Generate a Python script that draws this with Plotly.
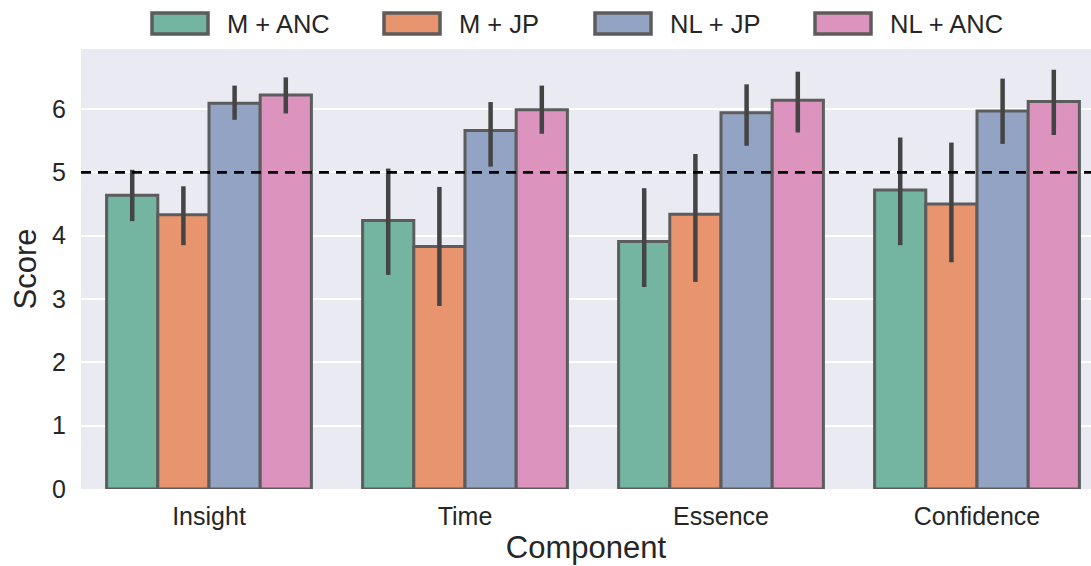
import plotly.graph_objects as go

# Categories and condition names
components = ["Insight", "Time", "Essence", "Confidence"]
conditions = ["M + ANC", "M + JP", "NL + JP", "NL + ANC"]

# Mean scores per condition (one value per component)
mean_m_anc = [4.64, 4.24, 3.91, 4.72]
mean_m_jp = [4.33, 3.83, 4.34, 4.50]
mean_nl_jp = [6.09, 5.66, 5.94, 5.97]
mean_nl_anc = [6.22, 5.99, 6.14, 6.12]

# Upper / lower confidence bounds
upper_m_anc = [5.04, 5.06, 4.75, 5.55]
upper_m_jp = [4.78, 4.77, 5.29, 5.47]
upper_nl_jp = [6.37, 6.11, 6.39, 6.48]
upper_nl_anc = [6.50, 6.37, 6.59, 6.62]

lower_m_anc = [4.23, 3.38, 3.19, 3.85]
lower_m_jp = [3.85, 2.89, 3.27, 3.58]
lower_nl_jp = [5.83, 5.09, 5.42, 5.45]
lower_nl_anc = [5.93, 5.61, 5.63, 5.59]

threshold = 5

y_ticks = [0, 1, 2, 3, 4, 5, 6]

means = [mean_m_anc, mean_m_jp, mean_nl_jp, mean_nl_anc]
uppers = [upper_m_anc, upper_m_jp, upper_nl_jp, upper_nl_anc]
lowers = [lower_m_anc, lower_m_jp, lower_nl_jp, lower_nl_anc]

colors = ["#73b5a0", "#e8956f", "#93a3c4", "#dc93be"]
edge = "#5c5c5c"
err_col = "#444444"
font_family = "Liberation Sans, Arial, sans-serif"
text_col = "#262626"

W, H = 1091, 566
ML, MR, MT, MB = 81, 0, 49, 77

fig = go.Figure()
for name, m, up, lo, c in zip(conditions, means, uppers, lowers, colors):
    fig.add_trace(go.Bar(
        name=name,
        x=components,
        y=m,
        marker=dict(color=c, line=dict(color=edge, width=3)),
        error_y=dict(
            type="data", symmetric=False,
            array=[u - v for u, v in zip(up, m)],
            arrayminus=[v - l for v, l in zip(m, lo)],
            width=0, thickness=4.5, color=err_col,
        ),
        showlegend=False,
    ))

# Reference line at the threshold score
fig.add_shape(type="line", xref="paper", yref="y", x0=0, x1=1,
              y0=threshold, y1=threshold, layer="above",
              line=dict(color="black", width=2.8, dash="10px,7px"))

# Custom legend row above the plot
plot_w = W - ML - MR
plot_h = H - MT - MB
box_px = [152, 384, 595, 815]
box_w = 56
box_top, box_bot = 13, 34


def px_to_paper_x(px):
    return (px - ML) / plot_w


def py_to_paper_y(py):
    return (H - MB - py) / plot_h


for name, c, bx in zip(conditions, colors, box_px):
    fig.add_shape(type="rect", xref="paper", yref="paper",
                  x0=px_to_paper_x(bx), x1=px_to_paper_x(bx + box_w),
                  y0=py_to_paper_y(box_bot), y1=py_to_paper_y(box_top),
                  fillcolor=c, line=dict(color=edge, width=3.5))
    fig.add_annotation(xref="paper", yref="paper",
                       x=px_to_paper_x(bx + box_w + 17),
                       y=py_to_paper_y((box_top + box_bot) / 2),
                       text=name, showarrow=False, xanchor="left", yanchor="middle",
                       font=dict(family=font_family, size=25.5, color=text_col))

fig.update_layout(
    width=W, height=H,
    margin=dict(l=ML, r=MR, t=MT, b=MB, autoexpand=False),
    paper_bgcolor="white",
    plot_bgcolor="#eaeaf2",
    barmode="group",
    bargap=0.2,
    bargroupgap=0,
    font=dict(family=font_family, color=text_col),
    xaxis=dict(
        range=[-0.5, -0.5 + plot_w / 256],
        showgrid=False, zeroline=False, showline=False,
        tickfont=dict(size=25, color=text_col),
        ticks="", ticklabelstandoff=10,
        title=dict(text="Component", font=dict(size=31, color=text_col), standoff=7),
        automargin=False,
    ),
    yaxis=dict(
        range=[0, 6.948],
        tickvals=y_ticks,
        showgrid=True, gridcolor="white", gridwidth=1.6,
        zeroline=False, showline=False,
        tickfont=dict(size=25, color=text_col),
        ticks="", ticklabelstandoff=14,
        title=dict(text="Score", font=dict(size=31, color=text_col), standoff=6),
        automargin=False,
    ),
)

fig.write_html("out.html")
